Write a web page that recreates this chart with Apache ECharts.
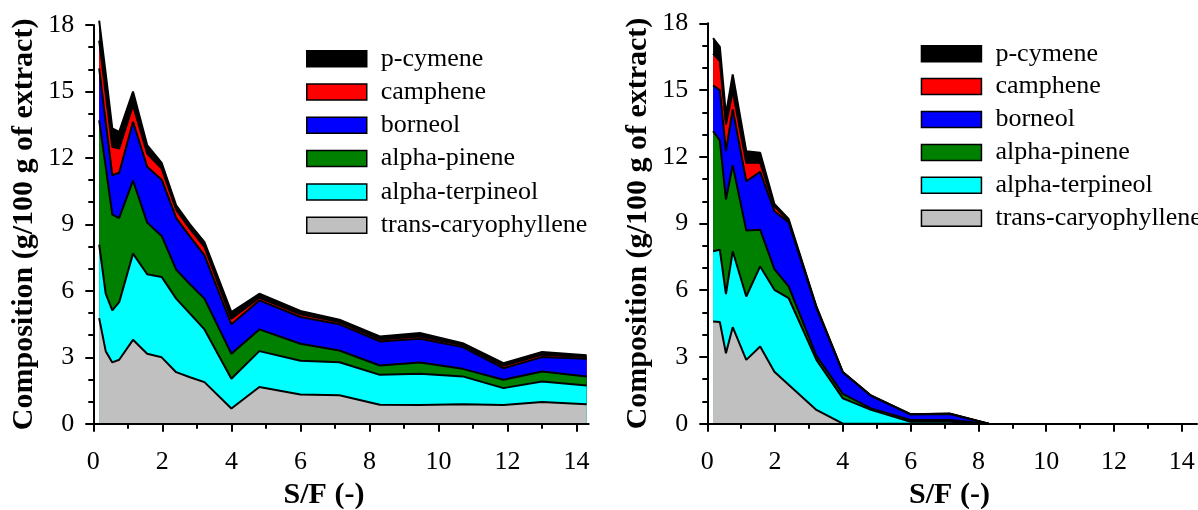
<!DOCTYPE html>
<html><head><meta charset="utf-8">
<script src="https://cdn.jsdelivr.net/npm/echarts@6/dist/echarts.min.js"></script>
<style>html,body{margin:0;padding:0;background:#fff}#c{width:1198px;height:510px}</style>
</head><body><div id="c"></div>
<script>
// ---- data ----
const seriesNames = ['trans-caryophyllene','alpha-terpineol','alpha-pinene','borneol','camphene','p-cymene'];
const legendOrder = ['p-cymene','camphene','borneol','alpha-pinene','alpha-terpineol','trans-caryophyllene'];
const xTickLabels = [0,2,4,6,8,10,12,14];
const xMinorTicks = [1,3,5,7,9,11,13];
const yTickLabels = [0,3,6,9,12,15,18];

// left panel
const sfLeft = [0.17,0.36,0.55,0.75,1.15,1.56,1.98,2.4,2.8,3.22,4.0,4.81,6.0,7.13,8.3,9.46,10.7,11.88,13.0,14.29];
const transCaryophylleneLeft = [4.77,3.28,2.77,2.89,3.79,3.16,3.0,2.33,2.1,1.88,0.69,1.66,1.32,1.29,0.86,0.85,0.88,0.85,0.98,0.88];
const alphaTerpineolLeft = [3.32,2.59,2.35,2.60,3.89,3.59,3.63,3.32,2.87,2.38,1.34,1.62,1.53,1.49,1.35,1.41,1.26,0.76,0.93,0.85];
const alphaPineneLeft = [5.61,5.73,4.32,3.80,3.30,2.33,1.85,1.31,1.33,1.39,1.13,0.98,0.76,0.53,0.42,0.51,0.34,0.38,0.45,0.41];
const borneolLeft = [2.34,2.00,1.78,2.04,2.65,2.52,2.54,2.33,2.15,1.95,1.33,1.31,1.21,1.18,1.09,1.07,0.98,0.52,0.65,0.80];
const campheneLeft = [1.26,1.30,1.28,1.10,0.75,0.60,0.50,0.38,0.35,0.38,0.25,0.12,0.12,0.10,0.09,0.10,0.08,0.11,0.11,0.08];
const pCymeneLeft = [0.90,0.90,0.83,0.75,0.62,0.38,0.26,0.19,0.20,0.22,0.30,0.18,0.15,0.11,0.13,0.16,0.10,0.12,0.12,0.07];

// right panel
const sfRight = [0.17,0.37,0.55,0.75,1.15,1.56,1.98,2.4,3.22,4.0,4.83,6.0,7.15,8.3];
const transCaryophylleneRight = [4.59,4.57,3.17,4.34,2.87,3.47,2.34,1.75,0.62,0,0,0,0,0];
const alphaTerpineolRight = [3.16,3.25,2.66,3.41,2.85,3.60,3.68,3.90,2.25,1.14,0.62,0.09,0.09,0];
const alphaPineneRight = [5.40,4.91,4.25,3.87,2.97,1.65,0.93,0.52,0.18,0.20,0.07,0.08,0.08,0];
const borneolRight = [2.06,2.26,2.17,2.51,2.21,2.60,2.60,2.88,2.15,0.96,0.56,0.24,0.27,0];
const campheneRight = [1.43,1.31,1.20,0.82,0.83,0.41,0.22,0.07,0.03,0.01,0.01,0.01,0.01,0];
const pCymeneRight = [0.69,0.64,0.45,0.75,0.52,0.45,0.11,0.08,0.04,0.01,0.01,0.01,0.01,0];

// ---- styling ----
const fillColors = {
  'trans-caryophyllene':'#c0c0c0','alpha-terpineol':'#00ffff','alpha-pinene':'#008000',
  'borneol':'#0000ff','camphene':'#ff0000','p-cymene':'#000000'
};
const FONT = "'Liberation Serif','Times New Roman',serif";

const leftSets = [transCaryophylleneLeft,alphaTerpineolLeft,alphaPineneLeft,borneolLeft,campheneLeft,pCymeneLeft];
const rightSets = [transCaryophylleneRight,alphaTerpineolRight,alphaPineneRight,borneolRight,campheneRight,pCymeneRight];

// stacked areas: cumulative totals built from the component arrays,
// drawn top component first so lower components overlay it
function makeSeries(xs, sets, idx) {
  const cum = [];
  sets.forEach((vals, i) => {
    cum.push(vals.map((v, j) => (i ? cum[i-1][j] : 0) + v));
  });
  const out = [];
  for (let i = sets.length - 1; i >= 0; i--) {
    out.push({
      type:'line', name: seriesNames[i], xAxisIndex: idx*2, yAxisIndex: idx*2,
      data: xs.map((x, j) => [x, +cum[i][j].toFixed(3)]),
      symbol:'none', showSymbol:false, clip:false, silent:true,
      lineStyle:{color:'#000', width:2}, itemStyle:{color:fillColors[seriesNames[i]]},
      areaStyle:{color:fillColors[seriesNames[i]], opacity:1, origin:0},
      z: 3 + (sets.length - i)
    });
  }
  return out;
}

function xAxes(grid, max) {
  const base = {gridIndex:grid, type:'value', min:0, max:max, interval:2, position:'bottom', splitLine:{show:false}, z:20};
  return [
    Object.assign({}, base, {
      axisLine:{show:true, onZero:false, lineStyle:{color:'#000', width:2}},
      axisTick:{show:true, length:8, customValues:xTickLabels, lineStyle:{color:'#000', width:2}},
      axisLabel:{show:true, customValues:xTickLabels, fontSize:26, fontFamily:FONT, color:'#000', margin:25}
    }),
    Object.assign({}, base, {
      axisLine:{show:false},
      axisTick:{show:true, length:5, customValues:xMinorTicks, lineStyle:{color:'#000', width:2}},
      axisLabel:{show:false}
    })
  ];
}
function yAxes(grid) {
  const base = {gridIndex:grid, type:'value', min:0, max:18, interval:3, position:'left', splitLine:{show:false}, minorSplitLine:{show:false}, z:20};
  return [
    Object.assign({}, base, {
      axisLine:{show:true, onZero:false, lineStyle:{color:'#000', width:2}},
      axisTick:{show:true, length:8, lineStyle:{color:'#000', width:2}},
      minorTick:{show:true, splitNumber:3, length:5, lineStyle:{color:'#000', width:2}},
      axisLabel:{fontSize:26, fontFamily:FONT, color:'#000', margin:19},
      name:'Composition (g/100 g of extract)', nameLocation:'middle', nameGap:54,
      nameTextStyle:{fontSize:30, fontWeight:'bold', fontFamily:FONT, color:'#000'}
    }),
    Object.assign({}, base, {axisLine:{show:false}, axisTick:{show:false}, axisLabel:{show:false}})
  ];
}
function legendCfg(left, top, gap) {
  return {
    orient:'vertical', left:left, top:top, padding:0, itemWidth:60, itemHeight:16, itemGap:gap,
    selectedMode:false, z:30,
    textStyle:{fontSize:26, fontFamily:FONT, color:'#000', lineHeight:26, padding:[0,0,0,9]},
    data: legendOrder.map(n => ({name:n, icon:'rect', itemStyle:{color:fillColors[n], borderColor:'#000', borderWidth:1.5}}))
  };
}

const chart = echarts.init(document.getElementById('c'), null, {renderer:'canvas'});
chart.setOption({
  animation:false,
  backgroundColor:'#fff',
  grid:[
    {left:93.3, top:25, width:495.4, height:398.8, outerBoundsMode:'none'},
    {left:707.3, top:23.3, width:489.7, height:400.4, outerBoundsMode:'none'}
  ],
  xAxis: xAxes(0, 14.35).concat(xAxes(1, 14.45)),
  yAxis: yAxes(0).concat(yAxes(1)),
  legend:[legendCfg(306, 45.7, 7.3), legendCfg(920.7, 40.7, 6.9)],
  graphic:[
    {type:'text', x:324, y:495, z:30, style:{text:'S/F (-)', fontSize:30, fontWeight:'bold', fontFamily:FONT, fill:'#000', align:'center', verticalAlign:'middle'}},
    {type:'text', x:949.5, y:495, z:30, style:{text:'S/F (-)', fontSize:30, fontWeight:'bold', fontFamily:FONT, fill:'#000', align:'center', verticalAlign:'middle'}}
  ],
  series: makeSeries(sfLeft, leftSets, 0).concat(makeSeries(sfRight, rightSets, 1))
});
</script></body></html>
